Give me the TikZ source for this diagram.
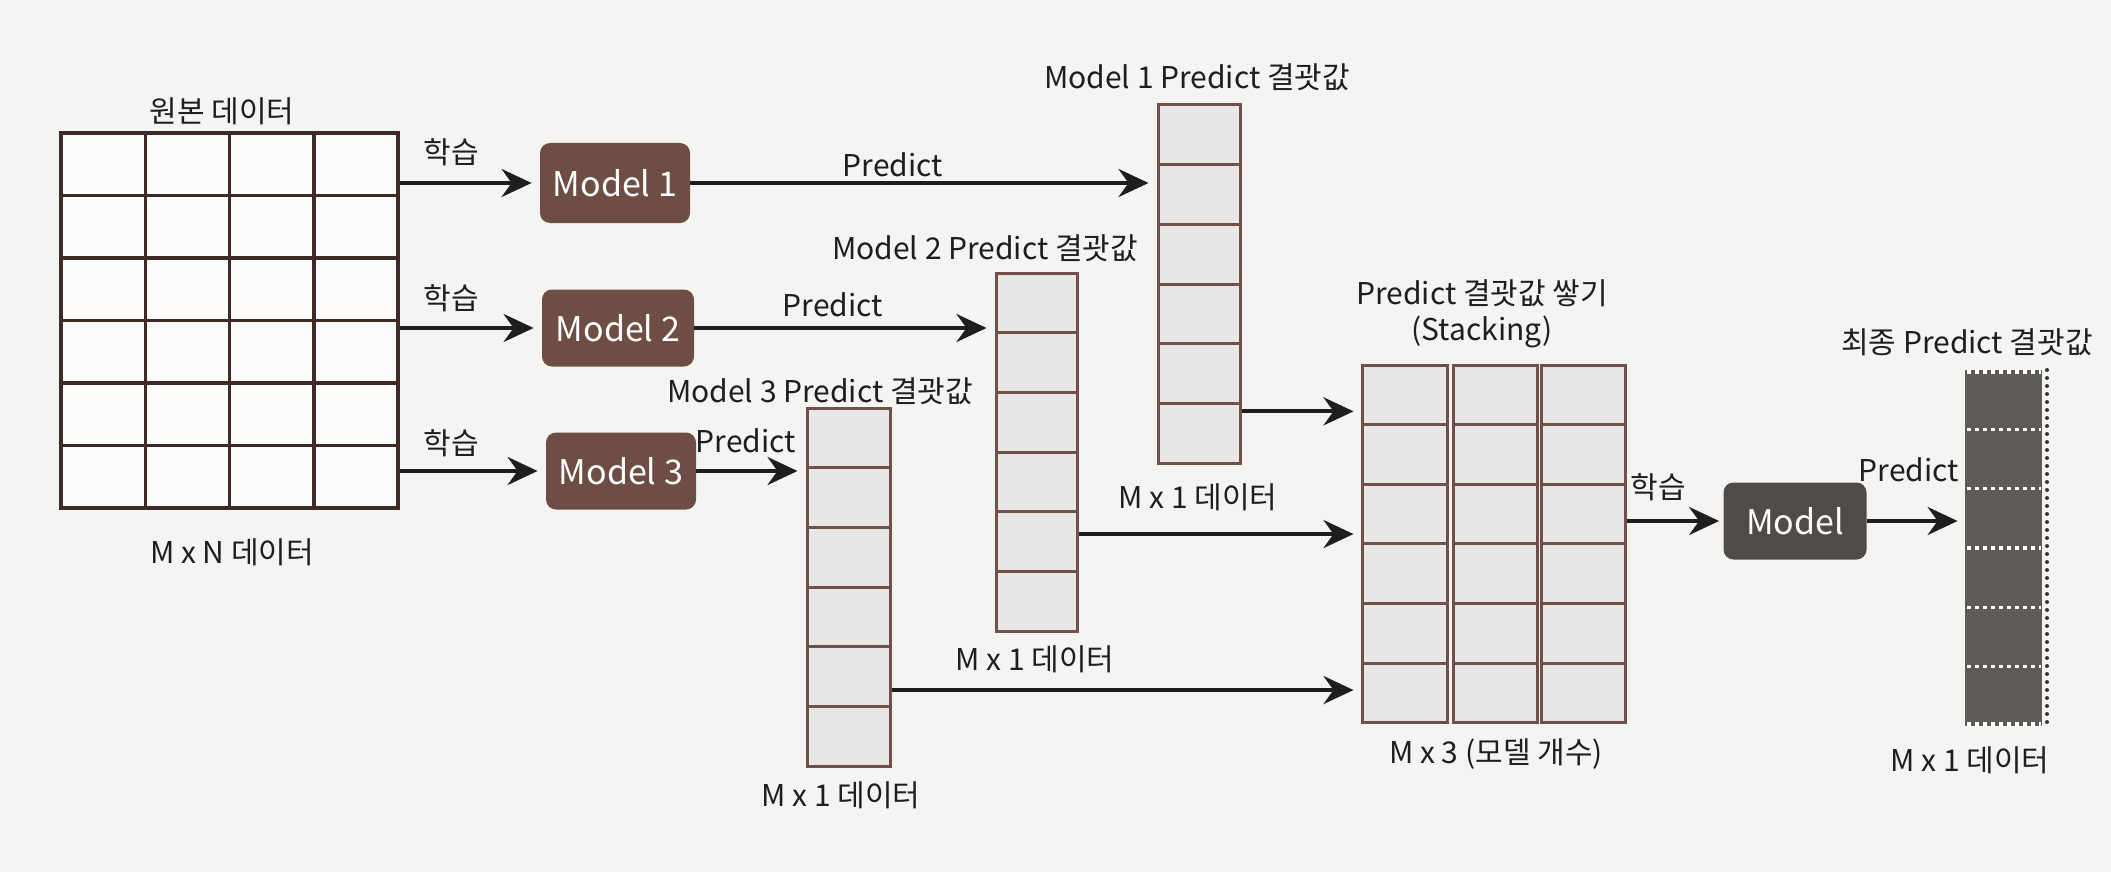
\documentclass[tikz,border=0pt]{standalone}
\usepackage{fontspec}
\setmainfont{Noto Sans CJK KR}
\usetikzlibrary{arrows.meta,calc}
\definecolor{bgc}{HTML}{F4F4F2}
\definecolor{txt}{HTML}{1E1E1E}
\definecolor{arrc}{HTML}{1E1E1E}
\definecolor{gridc}{HTML}{3E2A26}
\definecolor{cellb}{HTML}{70504A}
\definecolor{cellf}{HTML}{E8E7E6}
\definecolor{mbrown}{HTML}{6E4E44}
\definecolor{mgray}{HTML}{4F4B49}
\definecolor{fincol}{HTML}{5E5B59}
\definecolor{dotc}{HTML}{3A3838}
\tikzset{
  lbl/.style={font=\fontsize{15}{18}\selectfont, text=txt, inner sep=0pt},
  mbox/.style={rounded corners=5pt, fill=mbrown, text=white, inner sep=0pt,
    font=\fontsize{17}{20}\selectfont},
  cell/.style={draw=cellb, line width=1.5pt, fill=cellf, inner sep=0pt},
  arr/.style={-{Stealth[length=15pt,width=14pt,inset=5pt]}, line width=2pt, draw=arrc},
  gridline/.style={draw=gridc, line width=1.75pt},
  whdots/.style={draw=white, line width=1.6pt, dash pattern=on 2pt off 2pt},
}
\begin{document}
\begin{tikzpicture}[x=0.5pt,y=-0.5pt]
\useasboundingbox[fill=bgc] (0,0) rectangle (2111,872);

% ---------- original data grid ----------
\node[draw=gridc, line width=1.75pt, minimum width=168.5pt, minimum height=187.5pt, inner sep=0pt, fill=white!60!bgc] (grid) at (229.5,320.5) {};
\foreach \i in {1,2,3} \draw[gridline] ({61+84.25*\i},133) -- ({61+84.25*\i},508);
\foreach \j in {1,...,5} \draw[gridline] (61,{133+62.5*\j}) -- (398,{133+62.5*\j});
\node[lbl] (tgrid) at (222,111) {원본 데이터};
\node[lbl] (bgrid) at (232,552) {M x N 데이터};

% ---------- models ----------
\node[mbox, minimum width=75pt, minimum height=40pt] (m1) at (615,183) {Model 1};
\node[mbox, minimum width=76pt, minimum height=38.5pt] (m2) at (618,328) {Model 2};
\node[mbox, minimum width=75pt, minimum height=38.5pt] (m3) at (621,471) {Model 3};

\node[lbl] (l1) at (451,152) {학습};
\node[lbl] (l2) at (451,298) {학습};
\node[lbl] (l3) at (451,443) {학습};
\draw[arr, shorten >=4pt] (grid.east |- m1.west) -- (m1.west);
\draw[arr, shorten >=4pt] (grid.east |- m2.west) -- (m2.west);
\draw[arr, shorten >=4pt] (grid.east |- m3.west) -- (m3.west);

% ---------- prediction columns ----------
\foreach \i in {1,...,6} {
  \node[cell, minimum width=41pt, minimum height=29.85pt] (c1-\i) at (1199,{105+59.7*(\i-0.5)}) {};
  \node[cell, minimum width=40.5pt, minimum height=29.85pt] (c2-\i) at (1036.5,{273+59.7*(\i-0.5)}) {};
  \node[cell, minimum width=41.5pt, minimum height=29.85pt] (c3-\i) at (848.5,{408+59.7*(\i-0.5)}) {};
}
\node[lbl] (t1) at (1197,77) {Model 1 Predict 결괏값};
\node[lbl] (t2) at (985,248) {Model 2 Predict 결괏값};
\node[lbl] (t3) at (820,391) {Model 3 Predict 결괏값};
\node[lbl] (b1) at (1198,497) {M x 1 데이터};
\node[lbl] (b2) at (1035,659) {M x 1 데이터};
\node[lbl] (b3) at (841,795) {M x 1 데이터};

\node[lbl] (p1) at (893,165) {Predict};
\node[lbl] (p2) at (833,305) {Predict};
\node[lbl] (p3) at (746,441) {Predict};
\draw[arr, shorten >=4pt] (m1.east) -- (m1.east -| c1-1.west);
\draw[arr, shorten >=4pt] (m2.east) -- (m2.east -| c2-1.west);
\draw[arr, shorten >=4pt] (m3.east) -- (m3.east -| c3-1.west);

% ---------- stacking ----------
\foreach \i in {1,...,6} {
  \node[cell, minimum width=42.5pt, minimum height=29.8pt] (s1-\i) at (1404.5,{365+59.6*(\i-0.5)}) {};
  \node[cell, minimum width=42pt, minimum height=29.8pt] (s2-\i) at (1495,{365+59.6*(\i-0.5)}) {};
  \node[cell, minimum width=42pt, minimum height=29.8pt] (s3-\i) at (1583,{365+59.6*(\i-0.5)}) {};
}
\node[lbl] (ts1) at (1482,293) {Predict 결괏값 쌓기};
\node[lbl] (ts2) at (1482,332) {(Stacking)};
\node[lbl] (bs) at (1496,754) {M x 3 (모델 개수)};

\coordinate (a1) at ([yshift=11pt]c1-6.east);
\coordinate (a2) at ([yshift=3.8pt]c2-5.east);
\coordinate (a3) at ([yshift=-6.7pt]c3-5.east);
\draw[arr, shorten >=3.5pt] (a1) -- (a1 -| s1-1.west);
\draw[arr, shorten >=3.5pt] (a2) -- (a2 -| s1-1.west);
\draw[arr, shorten >=3.5pt] (a3) -- (a3 -| s1-1.west);

% ---------- final model ----------
\node[mbox, fill=mgray, minimum width=71.5pt, minimum height=38.5pt] (mf) at (1795,521) {Model};
\node[lbl] (lf) at (1658,487) {학습};
\draw[arr, shorten >=2pt] (s3-3.east |- mf.west) -- (mf.west);

\node[fill=fincol, minimum width=38.5pt, minimum height=178pt, inner sep=0pt] (fin) at (2003.5,548) {};
\foreach \i in {1,...,5} \draw[whdots] (1967,{370+59.3*\i}) -- (2041,{370+59.3*\i});
\draw[whdots] (1967,372) -- (2041,372);
\draw[whdots] (1967,724) -- (2041,724);
\draw[dotc, line width=2pt, dash pattern=on 0pt off 4pt, line cap=round] (2047,370) -- (2047,726);
\node[lbl] (pf) at (1909,470) {Predict};
\draw[arr, shorten >=3.5pt] (mf.east) -- (mf.east -| fin.west);
\node[lbl] (tf) at (1967,342) {최종 Predict 결괏값};
\node[lbl] (bf) at (1970,760) {M x 1 데이터};
\end{tikzpicture}
\end{document}
